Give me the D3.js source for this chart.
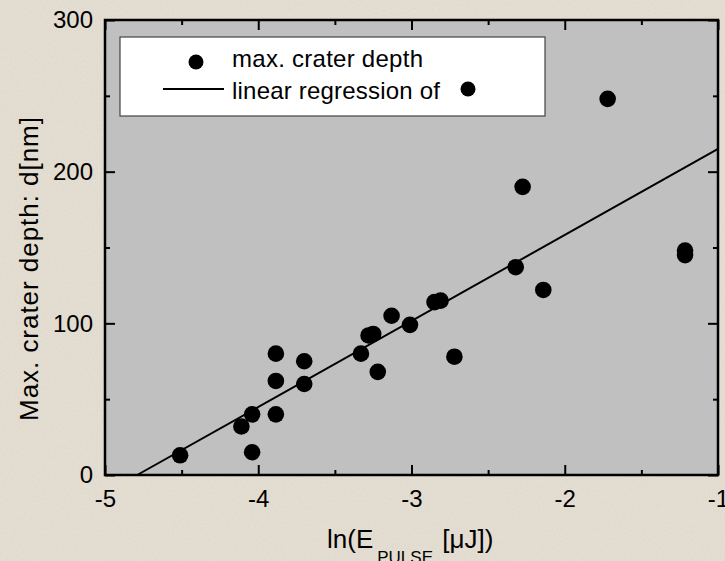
<!DOCTYPE html>
<html>
<head>
<meta charset="utf-8">
<script src="https://cdn.jsdelivr.net/npm/d3@7"></script>
<style>
  body { margin: 0; background: #e4ddd1; }
  svg { display: block; }
  text { font-family: "Liberation Sans", Arial, sans-serif; fill: #000; }
</style>
</head>
<body>
<div id="chart"></div>
<script>
// measured points: ln(E_pulse) and crater depth
var lnE = [-4.51, -4.11, -4.04, -4.04, -3.885, -3.885, -3.885, -3.70, -3.70, -3.33,
  -3.28, -3.25, -3.22, -3.13, -3.01, -2.85, -2.81, -2.72, -2.32, -2.275, -2.14, -1.72, -1.215, -1.215];
var depth = [13, 32, 40, 15, 80, 62, 40, 75, 60, 80,
  92, 93, 68, 105, 99, 114, 115, 78, 137, 190, 122, 248, 145, 148];

// regression line end points
var fitX = [-4.79, -1];
var fitY = [0, 215];

var xMajor = [-5, -4, -3, -2, -1];
var xMinor = [-4.5, -3.5, -2.5, -1.5];
var yMajor = [0, 100, 200, 300];
var yMinor = [50, 150, 250];

var svgWidth = 725;
var svgHeight = 561;
var margin = { top: 20, right: 7, bottom: 86, left: 105 };
var width = svgWidth - margin.left - margin.right;
var height = svgHeight - margin.top - margin.bottom;

var svg = d3.select("#chart")
  .append("svg")
  .attr("width", svgWidth)
  .attr("height", svgHeight);

// parchment texture
var defs = svg.append("defs");
var filt = defs.append("filter").attr("id", "paper").attr("x", 0).attr("y", 0)
  .attr("width", "100%").attr("height", "100%");
filt.append("feTurbulence").attr("type", "fractalNoise").attr("baseFrequency", 0.6)
  .attr("numOctaves", 2).attr("seed", 3).attr("result", "noise");
filt.append("feColorMatrix").attr("type", "matrix")
  .attr("values", "0 0 0 0 0.55  0 0 0 0 0.5  0 0 0 0 0.42  0 0 0 -0.9 0.55");
svg.append("rect").attr("width", svgWidth).attr("height", svgHeight).attr("fill", "#e4ddd1");
svg.append("rect").attr("width", svgWidth).attr("height", svgHeight)
  .attr("filter", "url(#paper)").attr("opacity", 0.35);

var chartGroup = svg.append("g")
  .attr("transform", `translate(${margin.left}, ${margin.top})`);

var xScale = d3.scaleLinear().domain([-5, -1]).range([0, width]);
var yScale = d3.scaleLinear().domain([0, 300]).range([height, 0]);

// plot background
chartGroup.append("rect")
  .attr("width", width)
  .attr("height", height)
  .attr("fill", "#c0c0c0");

// legend box
var legend = chartGroup.append("g").attr("transform", "translate(15, 17)");
legend.append("rect")
  .attr("width", 425)
  .attr("height", 79)
  .attr("fill", "#fff")
  .attr("stroke", "#444")
  .attr("stroke-width", 1.2);
legend.append("circle").attr("cx", 76).attr("cy", 25).attr("r", 7.5).attr("fill", "#000");
legend.append("text").attr("x", 112).attr("y", 30).attr("font-size", 24)
  .attr("textLength", 191).text("max. crater depth");
legend.append("line").attr("x1", 43).attr("x2", 104).attr("y1", 52).attr("y2", 52)
  .attr("stroke", "#000").attr("stroke-width", 2);
legend.append("text").attr("x", 112).attr("y", 62).attr("font-size", 24)
  .attr("textLength", 208).text("linear regression of");
legend.append("circle").attr("cx", 348).attr("cy", 52).attr("r", 7.5).attr("fill", "#000");

// regression line
var fitData = fitX.map((x, i) => [x, fitY[i]]);
chartGroup.append("path")
  .datum(fitData)
  .attr("fill", "none")
  .attr("stroke", "#000")
  .attr("stroke-width", 2)
  .attr("d", d3.line().x(d => xScale(d[0])).y(d => yScale(d[1])));

// points
chartGroup.selectAll(".pt")
  .data(lnE)
  .enter()
  .append("circle")
  .attr("class", "pt")
  .attr("cx", d => xScale(d))
  .attr("cy", (d, i) => yScale(depth[i]))
  .attr("r", 8.3)
  .attr("fill", "#000");

// axes, ticks inward
function styleAxis(g) {
  g.select(".domain").remove();
  g.selectAll(".tick line").attr("stroke", "#000").attr("stroke-width", 2);
  g.selectAll("text").attr("font-size", 24).attr("font-family", "Liberation Sans, Arial, sans-serif");
}
var plainNum = d => String(d);

var bottomAxis = d3.axisBottom(xScale).tickValues(xMajor).tickSizeInner(-10).tickPadding(15).tickFormat(plainNum);
chartGroup.append("g").attr("transform", `translate(0, ${height})`).call(bottomAxis).call(styleAxis);
chartGroup.append("g").attr("transform", `translate(0, ${height})`)
  .call(d3.axisBottom(xScale).tickValues(xMinor).tickSizeInner(-5).tickFormat("")).call(styleAxis);

var topAxis = d3.axisTop(xScale).tickValues(xMajor).tickSizeInner(-10).tickFormat("");
chartGroup.append("g").call(topAxis).call(styleAxis);
chartGroup.append("g")
  .call(d3.axisTop(xScale).tickValues(xMinor).tickSizeInner(-5).tickFormat("")).call(styleAxis);

var leftAxis = d3.axisLeft(yScale).tickValues(yMajor).tickSizeInner(-10).tickPadding(12).tickFormat(plainNum);
chartGroup.append("g").call(leftAxis).call(styleAxis);
chartGroup.append("g")
  .call(d3.axisLeft(yScale).tickValues(yMinor).tickSizeInner(-5).tickFormat("")).call(styleAxis);

chartGroup.append("g").attr("transform", `translate(${width}, 0)`)
  .call(d3.axisRight(yScale).tickValues(yMajor).tickSizeInner(-10).tickFormat("")).call(styleAxis);
chartGroup.append("g").attr("transform", `translate(${width}, 0)`)
  .call(d3.axisRight(yScale).tickValues(yMinor).tickSizeInner(-5).tickFormat("")).call(styleAxis);

// frame
chartGroup.append("rect")
  .attr("width", width)
  .attr("height", height)
  .attr("fill", "none")
  .attr("stroke", "#000")
  .attr("stroke-width", 2.5);

// axis titles
var xTitle = svg.append("text")
  .attr("x", 327)
  .attr("y", 548)
  .attr("font-size", 26);
xTitle.append("tspan").text("ln(E");
xTitle.append("tspan").attr("font-size", 17).attr("dx", 4).attr("dy", 15).text("PULSE");
xTitle.append("tspan").attr("dx", 2).attr("dy", -15).text(" [\u03bcJ])");

svg.append("text")
  .attr("transform", "translate(38, 269) rotate(-90)")
  .attr("text-anchor", "middle")
  .attr("font-size", 26)
  .attr("textLength", 304)
  .text("Max. crater depth: d[nm]");
</script>
</body>
</html>
